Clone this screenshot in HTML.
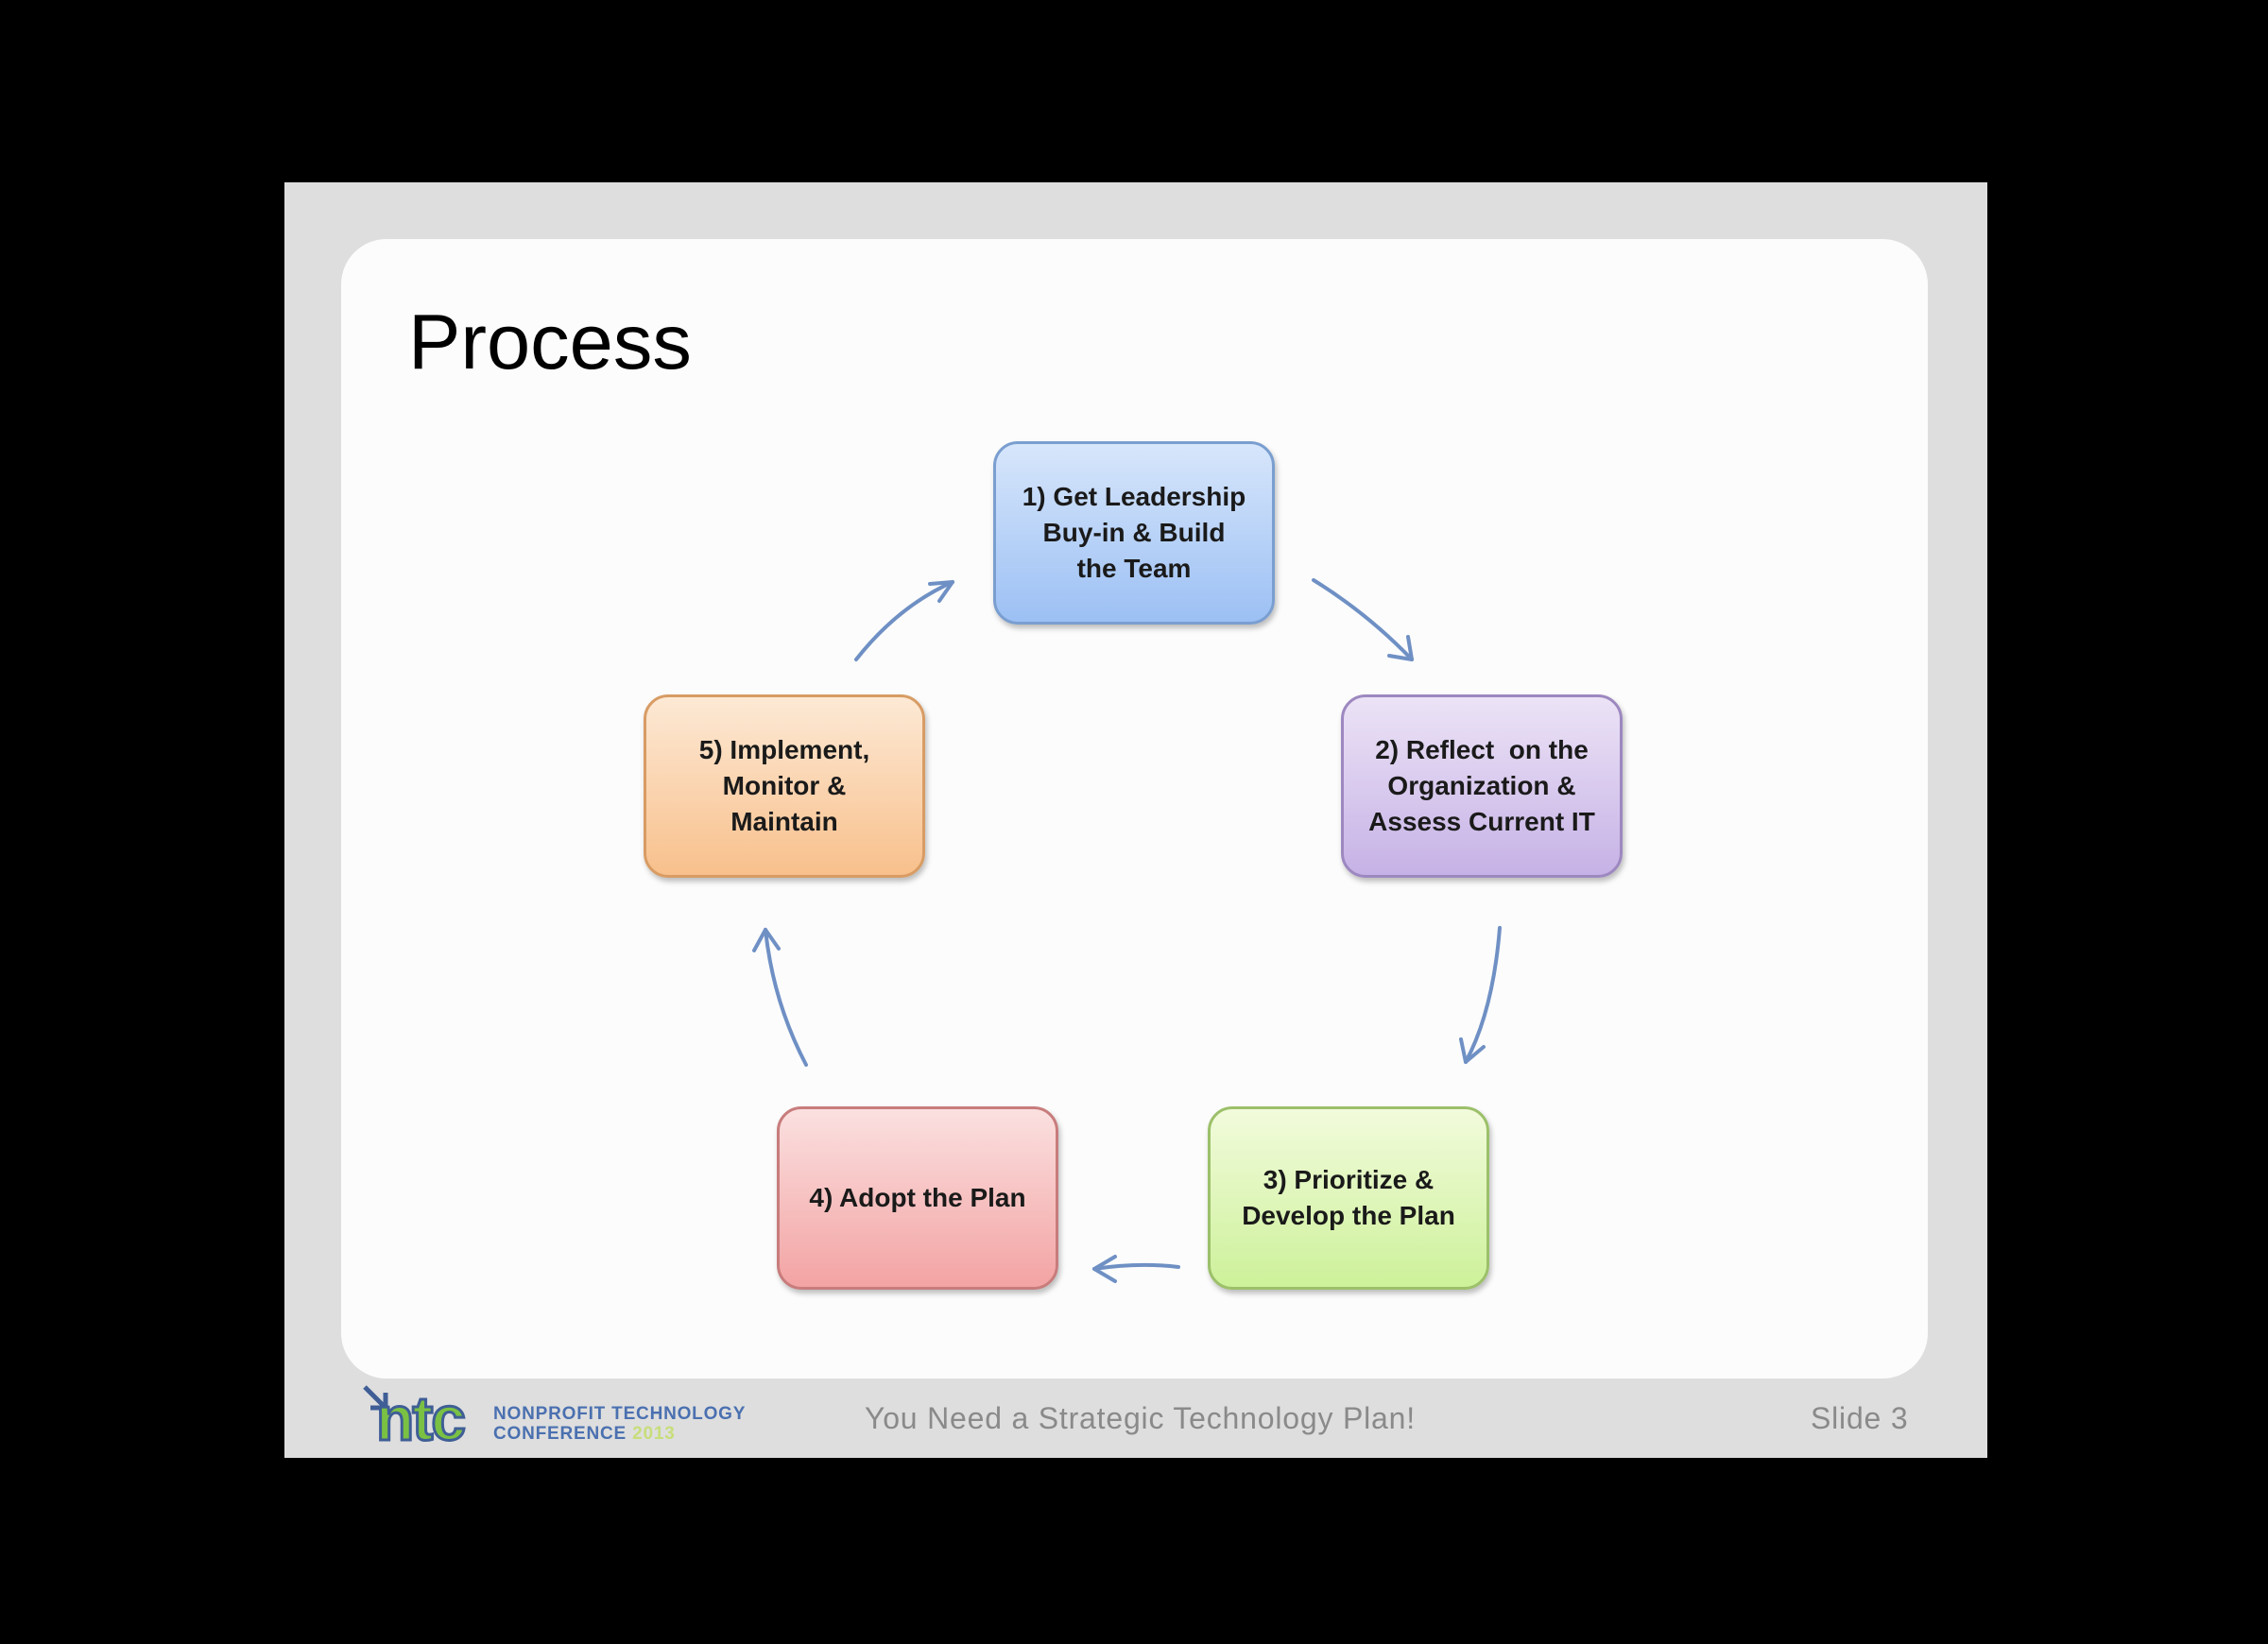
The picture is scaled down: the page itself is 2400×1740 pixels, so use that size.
<!DOCTYPE html>
<html><head><meta charset="utf-8"><style>
body{margin:0;width:2400px;height:1740px;background:#000;position:relative;overflow:hidden;font-family:"Liberation Sans",sans-serif}
.slide{position:absolute;left:301px;top:193px;width:1802px;height:1350px;background:#dedede}
.panel{position:absolute;left:361px;top:253px;width:1679px;height:1206px;background:#fcfcfc;border-radius:48px}
.title{position:absolute;left:432px;top:314px;font-size:83px;color:#000}
.box{position:absolute;width:298px;height:194px;border-radius:26px;display:flex;align-items:center;justify-content:center;text-align:center;font-weight:bold;font-size:28px;line-height:38px;color:#1a1a1a;box-sizing:border-box;box-shadow:2px 4px 6px rgba(0,0,0,0.25)}
.b1{left:1051px;top:467px;background:linear-gradient(#d7e6fb,#9cc0f4);border:3px solid #7a9ed0}
.b2{left:1419px;top:735px;background:linear-gradient(#ece3f6,#c6b2e6);border:3px solid #9d88c0}
.b3{left:1278px;top:1171px;background:linear-gradient(#f2fbdc,#cdf19a);border:3px solid #9cc06a}
.b4{left:822px;top:1171px;background:linear-gradient(#fbe0e0,#f3a3a3);border:3px solid #c87c7c}
.b5{left:681px;top:735px;background:linear-gradient(#fde9d5,#f8c08c);border:3px solid #d89c64}
.foot{position:absolute;top:1483px;font-size:32px;color:#8a8a8a;letter-spacing:0.8px}
</style></head><body>
<div class="slide"></div>
<div class="panel"></div>
<div class="title">Process</div>
<div class="box b1">1) Get Leadership<br>Buy-in &amp; Build<br>the Team</div>
<div class="box b2">2) Reflect&nbsp; on the<br>Organization &amp;<br>Assess Current IT</div>
<div class="box b3">3) Prioritize &amp;<br>Develop the Plan</div>
<div class="box b4">4) Adopt the Plan</div>
<div class="box b5">5) Implement,<br>Monitor &amp;<br>Maintain</div>
<svg width="2400" height="1740" style="position:absolute;left:0;top:0" fill="none" stroke="#6f90c4" stroke-width="4" stroke-linecap="round">
<path d="M1390 614 Q1448 650 1494 698"/><path d="M1494 698 L1470 694 M1494 698 L1490 674"/>
<path d="M1587 982 Q1580 1070 1551 1124"/><path d="M1551 1124 L1546 1100 M1551 1124 L1570 1108"/>
<path d="M1247 1341 Q1205 1336 1158 1343"/><path d="M1158 1343 L1180 1330 M1158 1343 L1180 1356"/>
<path d="M853 1127 Q818 1060 810 984"/><path d="M810 984 L798 1006 M810 984 L824 1004"/>
<path d="M906 698 Q950 642 1008 616"/><path d="M1008 616 L984 618 M1008 616 L994 636"/>
</svg>
<svg width="60" height="50" style="position:absolute;left:380px;top:1462px" fill="none" stroke="#3f5e96" stroke-width="5"><path d="M6 6 L28 28 M28 12 L28 28 L12 28"/></svg>
<div style="position:absolute;left:398px;top:1468px;font-size:66px;font-weight:bold;color:#7ac143;-webkit-text-stroke:3px #3f5e96;letter-spacing:-2px;line-height:66px">ntc</div>
<div style="position:absolute;left:522px;top:1486px;font-size:19px;font-weight:bold;color:#4a70b0;line-height:21px;letter-spacing:0.8px">NONPROFIT TECHNOLOGY<br>CONFERENCE <span style="color:#c7de7a">2013</span></div>
<div class="foot" style="left:915px">You Need a Strategic Technology Plan!</div>
<div class="foot" style="left:1916px">Slide 3</div>
</body></html>
